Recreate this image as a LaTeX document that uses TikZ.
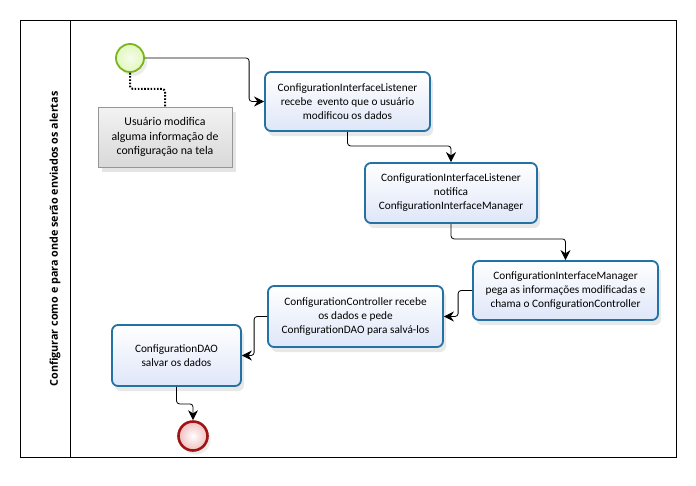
\documentclass[tikz,border=0pt]{standalone}
\usepackage{fontspec}
\setmainfont{Carlito}
\newfontfamily\titlefont{Open Sans}
\usetikzlibrary{arrows.meta,shadows}
\definecolor{taskline}{RGB}{36,113,163}
\definecolor{taskfill}{RGB}{222,230,248}
\definecolor{startline}{RGB}{122,181,29}
\definecolor{startfill}{RGB}{226,247,190}
\definecolor{endline}{RGB}{160,20,20}
\definecolor{endfill}{RGB}{240,190,190}
\definecolor{annline}{RGB}{150,150,150}
\begin{document}
\begin{tikzpicture}[x=1pt,y=-1pt,
  task/.style={draw=taskline, line width=1.8pt, rounded corners=6pt,
    top color=white, bottom color=taskfill, align=center,
    font=\fontsize{11.3}{14}\selectfont, inner sep=2pt,
    drop shadow={opacity=0.18, shadow xshift=3pt, shadow yshift=-5pt}},
  annot/.style={draw=annline, line width=0.6pt, top color=white!95!black, bottom color=black!15,
    align=center, font=\fontsize{11.8}{14.2}\selectfont, inner sep=2pt,
    drop shadow={opacity=0.2, shadow xshift=4pt, shadow yshift=-5pt}},
  flow/.style={draw, line width=0.8pt, rounded corners=3pt, -{Stealth[length=10pt,width=10pt]}},
  assoc/.style={draw, line width=2pt, dash pattern=on 1.6pt off 1.6pt, rounded corners=3pt},
  pool/.style={draw, line width=0.8pt}
]
\useasboundingbox (0,0) rectangle (696,485);
\fill[white] (0,0) rectangle (696,485);
% pool
\draw[pool] (20,20) rectangle (676,457);
\draw[pool] (70,20) -- (70,457);
\node[rotate=90, font=\titlefont\bfseries\fontsize{10.8}{13}\selectfont] (title) at (55,239)
  {Configurar como e para onde serão enviados os alertas};
% events
\node[circle, draw=startline, line width=1.8pt, inner color=startfill!30, outer color=startfill,
  minimum size=28pt, inner sep=0pt,
  drop shadow={opacity=0.15, shadow xshift=3pt, shadow yshift=-4pt}] (start) at (130,58) {};
\node[circle, draw=endline, line width=2.6pt, inner color=white, outer color=endfill,
  minimum size=29pt, inner sep=0pt,
  drop shadow={opacity=0.15, shadow xshift=3pt, shadow yshift=-4pt}] (end) at (193,436) {};
% annotation
\node[annot, minimum width=134pt, minimum height=60pt] (ann) at (165,137)
  {Usuário modifica\\alguma informação de\\configuração na tela};
% tasks
\node[task, minimum width=165pt, minimum height=59pt] (t1) at (347.5,101.5)
  {ConfigurationInterfaceListener\\recebe \ evento que o usuário\\modificou os dados};
\node[task, minimum width=172pt, minimum height=60pt] (t2) at (451,193)
  {ConfigurationInterfaceListener\\notifica\\ConfigurationInterfaceManager};
\node[task, minimum width=185pt, minimum height=59pt] (t3) at (565.5,290.5)
  {ConfigurationInterfaceManager\\pega as informações modificadas e\\chama o ConfigurationController};
\node[task, minimum width=175pt, minimum height=61pt] (t4) at (355.5,316.5)
  {ConfigurationController recebe\\os dados e pede\\ConfigurationDAO para salvá-los};
\node[task, minimum width=129pt, minimum height=61pt] (t5) at (176.5,355.5)
  {ConfigurationDAO\\salvar os dados};
% connectors
\draw[assoc] (start.south) -- ++(0,16) -| (ann.north);
\draw[flow] (start.east) -| ([xshift=-15pt]t1.west) -- (t1.west);
\draw[flow] (t1.south) -- ++(0,14) -| (t2.north);
\draw[flow] (t2.south) -- ++(0,15) -| (t3.north);
\draw[flow] (t3.west) -- ++(-14,0) |- (t4.east);
\draw[flow] (t4.west) -- ++(-13,0) |- (t5.east);
\draw[flow] (t5.south) -- ++(0,17) -| (end.north);
\end{tikzpicture}
\end{document}
